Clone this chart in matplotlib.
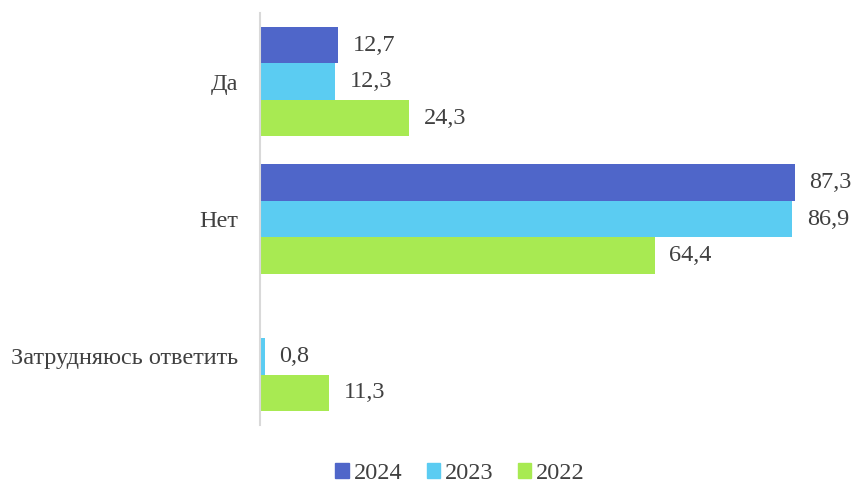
import numpy as np
import matplotlib
matplotlib.use('Agg')
from matplotlib import pyplot as plt
from matplotlib.patches import Patch

plt.rcParams['font.family'] = ['Liberation Serif', 'DejaVu Serif']

categories = ['Да', 'Нет', 'Затрудняюсь ответить']
years = ['2024', '2023', '2022']
v2024 = [12.7, 87.3, np.nan]
v2023 = [12.3, 86.9, 0.8]
v2022 = [24.3, 64.4, 11.3]
colors = ['#4F66C9', '#5BCCF2', '#A8EA52']

series = [v2024, v2023, v2022]
txt = '#404040'
fs = 17.5

fig = plt.figure(figsize=(8.52, 4.84), dpi=100)
ax = fig.add_axes([0.3052, 0.1219, 0.683, 0.8512])

h = 0.265
y = np.arange(len(categories))
for i, vals in enumerate(series):
    pos = y + (i - 1) * h
    ax.barh(pos, vals, height=h, color=colors[i])
    for p, v in zip(pos, vals):
        if np.isnan(v):
            continue
        ax.annotate(('%.1f' % v).replace('.', ','), (v, p), xytext=(10.5, 0),
                    textcoords='offset points', va='center', ha='left',
                    fontsize=fs, color=txt)

ax.set_ylim(2.5, -0.5)
ax.set_xlim(0, 95)
ax.set_yticks(y)
ax.set_yticklabels(categories, fontsize=fs, color=txt)
ax.tick_params(axis='y', length=0, pad=15.5)
ax.set_xticks([])
for s in ['top', 'right', 'bottom']:
    ax.spines[s].set_visible(False)
ax.spines['left'].set_color('#d9d9d9')
ax.spines['left'].set_linewidth(1.5)

handles = [Patch(color=c, label=l) for c, l in zip(colors, years)]
fig.legend(handles=handles, loc='center', bbox_to_anchor=(0.54, 0.022),
           ncol=3, frameon=False, fontsize=fs, labelcolor=txt,
           handlelength=0.55, handleheight=0.55, handletextpad=0.2,
           columnspacing=1.0, borderpad=0.0)

fig.savefig('out.png', dpi=100)
